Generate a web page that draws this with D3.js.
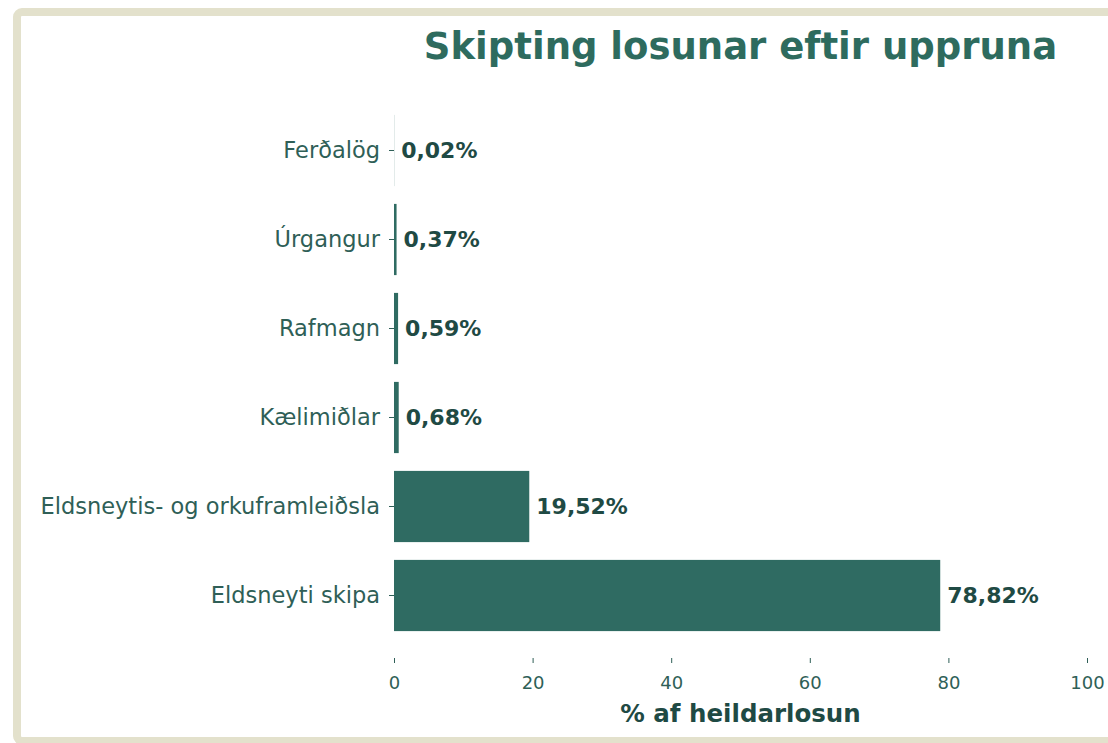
<!DOCTYPE html>
<html>
<head>
<meta charset="utf-8">
<script src="https://cdn.jsdelivr.net/npm/d3@7"></script>
<style>
  html, body { margin: 0; padding: 0; background: #fff; }
  svg { display: block; font-family: "DejaVu Sans", sans-serif; }
</style>
</head>
<body>
<div id="chart"></div>
<script>
'use strict';

var categories = ['Ferðalög', 'Úrgangur', 'Rafmagn', 'Kælimiðlar', 'Eldsneytis- og orkuframleiðsla', 'Eldsneyti skipa'];
var shares = [0.02, 0.37, 0.59, 0.68, 19.52, 78.82];
var xTicks = [0, 20, 40, 60, 80, 100];

var width = 1108, height = 743;
var barColor = '#2f6b62';
var textColor = '#2f5f57';

var svg = d3.select('#chart')
    .append('svg')
    .attr('width', width)
    .attr('height', height);

// beige frame, cut off by the right edge
svg.append('rect')
    .attr('x', 17).attr('y', 12)
    .attr('width', 1200).attr('height', 729)
    .attr('rx', 5)
    .attr('fill', '#fff')
    .attr('stroke', '#e3e1cc')
    .attr('stroke-width', 8);

var x = d3.scaleLinear().domain([0, 100]).range([394, 1087]);
var y = d3.scaleBand().domain(categories).range([106, 640])
    .paddingInner(0.2).paddingOuter(0.1);

var data = categories.map(function(c, i) { return {name: c, value: shares[i]}; });

svg.selectAll('.bar')
    .data(data)
    .enter()
    .append('rect')
    .attr('class', 'bar')
    .attr('x', x(0))
    .attr('y', function(d) { return y(d.name); })
    .attr('width', function(d) { return x(d.value) - x(0); })
    .attr('height', y.bandwidth())
    .attr('fill', barColor);

// value labels
svg.selectAll('.val')
    .data(data)
    .enter()
    .append('text')
    .attr('class', 'val')
    .attr('x', function(d) { return x(d.value) + 7; })
    .attr('y', function(d) { return y(d.name) + y.bandwidth() / 2; })
    .attr('dy', '0.35em')
    .attr('fill', '#1f4a44')
    .style('font-size', '22px')
    .style('font-weight', 'bold')
    .text(function(d) { return d.value.toFixed(2).replace('.', ',') + '%'; });

// y axis
var yAxis = svg.append('g')
    .attr('transform', 'translate(' + x(0) + ',0)')
    .call(d3.axisLeft(y).tickSize(5).tickPadding(9));
yAxis.select('.domain').remove();
yAxis.selectAll('line').attr('stroke', textColor);
yAxis.selectAll('text')
    .attr('fill', textColor)
    .style('font-size', '22.5px')
    .style('font-family', '"DejaVu Sans", sans-serif');

// x axis
var xAxis = svg.append('g')
    .attr('transform', 'translate(0,658)')
    .call(d3.axisBottom(x).tickValues(xTicks).tickSize(5).tickPadding(13));
xAxis.select('.domain').remove();
xAxis.selectAll('line').attr('stroke', textColor);
xAxis.selectAll('text')
    .attr('fill', textColor)
    .style('font-size', '18px')
    .style('font-family', '"DejaVu Sans", sans-serif');

svg.append('text')
    .attr('x', (x(0) + x(100)) / 2)
    .attr('y', 722)
    .attr('text-anchor', 'middle')
    .attr('fill', '#1f4a44')
    .style('font-size', '24.5px')
    .style('font-weight', 'bold')
    .text('% af heildarlosun');

svg.append('text')
    .attr('x', (x(0) + x(100)) / 2)
    .attr('y', 59)
    .attr('text-anchor', 'middle')
    .attr('fill', '#2e6b5e')
    .style('font-size', '37px')
    .style('font-weight', 'bold')
    .text('Skipting losunar eftir uppruna');
</script>
</body>
</html>
